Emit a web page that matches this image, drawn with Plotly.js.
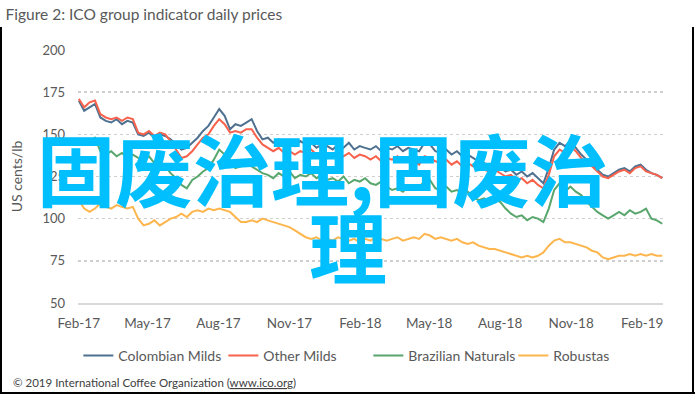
<!DOCTYPE html>
<html>
<head>
<meta charset="utf-8">
<script src="https://cdn.plot.ly/plotly-3.0.1.min.js"></script>
<style>html,body{margin:0;padding:0;background:#fff;}#chart{width:695px;height:394px;}</style>
</head>
<body>
<div id="chart"></div>
<script>
const dates = [
"2017-02-01","2017-02-08","2017-02-15","2017-02-22","2017-03-01","2017-03-08","2017-03-15","2017-03-22","2017-03-29",
"2017-04-05","2017-04-12","2017-04-19","2017-04-26","2017-05-03","2017-05-10","2017-05-17","2017-05-24","2017-05-31",
"2017-06-07","2017-06-14","2017-06-21","2017-06-28","2017-07-05","2017-07-12","2017-07-19","2017-07-26",
"2017-08-02","2017-08-09","2017-08-16","2017-08-23","2017-08-30","2017-09-06","2017-09-13","2017-09-20","2017-09-27",
"2017-10-04","2017-10-11","2017-10-18","2017-10-25","2017-11-01","2017-11-08","2017-11-15","2017-11-22","2017-11-29",
"2017-12-06","2017-12-13","2017-12-20","2017-12-27",
"2018-01-03","2018-01-10","2018-01-17","2018-01-24","2018-01-31","2018-02-07","2018-02-14","2018-02-21","2018-02-28",
"2018-03-07","2018-03-14","2018-03-21","2018-03-28","2018-04-04","2018-04-11","2018-04-18","2018-04-25",
"2018-05-02","2018-05-09","2018-05-16","2018-05-23","2018-05-30","2018-06-06","2018-06-13","2018-06-20","2018-06-27",
"2018-07-04","2018-07-11","2018-07-18","2018-07-25","2018-08-01","2018-08-08","2018-08-15","2018-08-22","2018-08-29",
"2018-09-05","2018-09-12","2018-09-19","2018-09-26","2018-10-03","2018-10-10","2018-10-17","2018-10-24","2018-10-31",
"2018-11-07","2018-11-14","2018-11-21","2018-11-28","2018-12-05","2018-12-12","2018-12-19","2018-12-26",
"2019-01-02","2019-01-09","2019-01-16","2019-01-23","2019-01-30","2019-02-06","2019-02-13","2019-02-20","2019-02-27"
];

const colombianMilds = [
170,164,166,168,160,158,157,159,156,158,157,150,149,151,148,150,149,147,144,141,
142,145,148,152,155,160,165,161,153,156,155,157,159,152,147,148,145,147,144,145,
143,146,144,145,142,144,143,141,144,142,145,141,143,142,141,143,140,142,141,143,
140,142,141,140,145,144,140,139,141,138,140,137,138,136,134,133,131,132,130,128,
129,126,128,125,127,124,121,130,141,145,143,146,142,138,135,132,129,126,125,127,
129,130,128,131,132,129,127,126,124
];

const otherMilds = [
171,166,169,170,162,160,159,160,158,160,159,151,150,152,149,151,150,146,141,136,
137,140,144,148,150,155,159,156,151,152,151,153,153,148,144,142,140,142,139,140,
138,140,139,141,138,139,137,136,139,137,139,136,138,137,135,137,134,136,135,137,
134,136,134,132,137,136,134,133,135,132,134,131,133,131,130,129,128,129,127,125,
126,123,124,121,123,120,118,126,137,141,139,143,140,136,133,131,128,125,124,126,
128,129,127,130,131,128,127,126,124
];

const brazilianNaturals = [
146,144,146,148,140,138,140,137,139,136,138,136,135,137,133,129,131,127,124,120,
118,123,125,128,130,135,141,138,133,130,131,132,131,129,127,126,124,127,125,128,
124,126,125,127,124,126,123,124,122,125,121,123,122,124,121,120,122,119,117,118,
116,119,117,119,122,123,118,117,119,116,117,115,116,113,111,112,110,111,110,106,
103,101,102,99,101,100,98,106,117,121,116,119,116,114,110,107,104,102,100,102,
104,102,105,103,104,106,100,99,97
];

const robustas = [
111,106,104,106,109,107,106,108,107,106,107,100,96,97,99,96,98,100,101,103,
101,104,105,104,106,105,106,105,104,101,98,98,99,98,100,99,98,97,96,95,
93,91,89,88,89,87,88,87,89,88,87,88,86,88,87,89,88,87,88,89,
87,88,89,88,91,90,88,89,88,87,88,86,85,86,84,83,82,82,81,80,
79,78,77,78,77,78,80,84,87,88,86,86,85,84,83,81,80,77,76,77,
78,78,79,78,79,78,79,78,78
];

const seriesNames = ["Colombian Milds","Other Milds","Brazilian Naturals","Robustas"];
const seriesValues = [colombianMilds, otherMilds, brazilianNaturals, robustas];
const seriesColors = ["#4f7190","#f8624c","#58a66c","#fdb64e"];

const chartTitle = "Figure 2: ICO group indicator daily prices";
const yTitle = "US cents/lb";
const copyright = "© 2019 International Coffee Organization (<u>www.ico.org</u>)";
const overlayLine1 = "固废治理,固废治";
const overlayLine2 = "理";

const traces = seriesNames.map((n, i) => ({
  type: "scatter", mode: "lines", name: n,
  x: dates, y: seriesValues[i],
  line: {color: seriesColors[i], width: 2}
}));

// plot area pixel helpers (paper coords)
const L = 78, R = 663, T = 50, B = 303;
const px = x => (x - L) / (R - L);
const py = y => (B - y) / (B - T);

const font = "Lato, 'Open Sans', sans-serif";
const layout = {
  width: 695, height: 394,
  margin: {l: L, r: 695 - R, t: T, b: 394 - B},
  paper_bgcolor: "#ffffff", plot_bgcolor: "#ffffff",
  font: {family: font, color: "#595959", size: 12},
  title: {text: chartTitle, x: 0.008, xanchor: "left", xref: "container",
          y: 1 - 15/394, yanchor: "middle", yref: "container",
          font: {family: font, size: 15.5, color: "#595959"}},
  xaxis: {type: "date", range: ["2017-01-31", "2019-02-28"],
          tick0: "2017-02-01", dtick: "M3", tickformat: "%b-%y",
          showgrid: false, zeroline: false, showline: true,
          linecolor: "#d9d9d9", linewidth: 2, ticks: "",
          ticklabelstandoff: 7,
          tickfont: {family: font, size: 13.5, color: "#595959"}},
  yaxis: {range: [50, 200], dtick: 25, tick0: 50,
          showgrid: true, gridcolor: "#cfcfcf", griddash: "dot", gridwidth: 1.5,
          zeroline: false, showline: false, ticks: "",
          ticklabelstandoff: 12,
          tickfont: {family: font, size: 13, color: "#595959"},
          title: {text: yTitle, standoff: 16, font: {family: font, size: 14, color: "#595959"}}},
  legend: {orientation: "h", xref: "container", x: 0.53, xanchor: "center",
           yref: "container", y: 1 - 356/394, yanchor: "middle",
           font: {family: font, size: 14, color: "#595959"},
           itemwidth: 30, tracegroupgap: 0, entrywidth: 100, entrywidthmode: "pixels"},
  showlegend: true,
  annotations: [
    {text: copyright, xref: "paper", yref: "paper", x: px(11), y: py(382),
     xanchor: "left", yanchor: "middle", showarrow: false,
     font: {family: font, size: 11.5, color: "#404040"}},
    {text: overlayLine1, xref: "paper", yref: "paper", x: px(322), y: py(167),
     xanchor: "center", yanchor: "middle", showarrow: false,
     font: {family: "'Noto Sans CJK SC', sans-serif", size: 78, color: "#00bfff", weight: 700}},
    {text: overlayLine2, xref: "paper", yref: "paper", x: px(348), y: py(245),
     xanchor: "center", yanchor: "middle", showarrow: false,
     font: {family: "'Noto Sans CJK SC', sans-serif", size: 78, color: "#00bfff", weight: 700}}
  ],
  shapes: [
    {type: "line", xref: "paper", yref: "paper", x0: px(1), x1: px(1), y0: py(27), y1: py(394), line: {color: "#000", width: 2}},
    {type: "line", xref: "paper", yref: "paper", x0: px(693), x1: px(693), y0: py(27), y1: py(394), line: {color: "#000", width: 2}},
    {type: "line", xref: "paper", yref: "paper", x0: px(0), x1: px(695), y0: py(393), y1: py(393), line: {color: "#000", width: 2}}
  ]
};

Plotly.newPlot("chart", traces, layout, {displayModeBar: false, staticPlot: true});
</script>
</body>
</html>
